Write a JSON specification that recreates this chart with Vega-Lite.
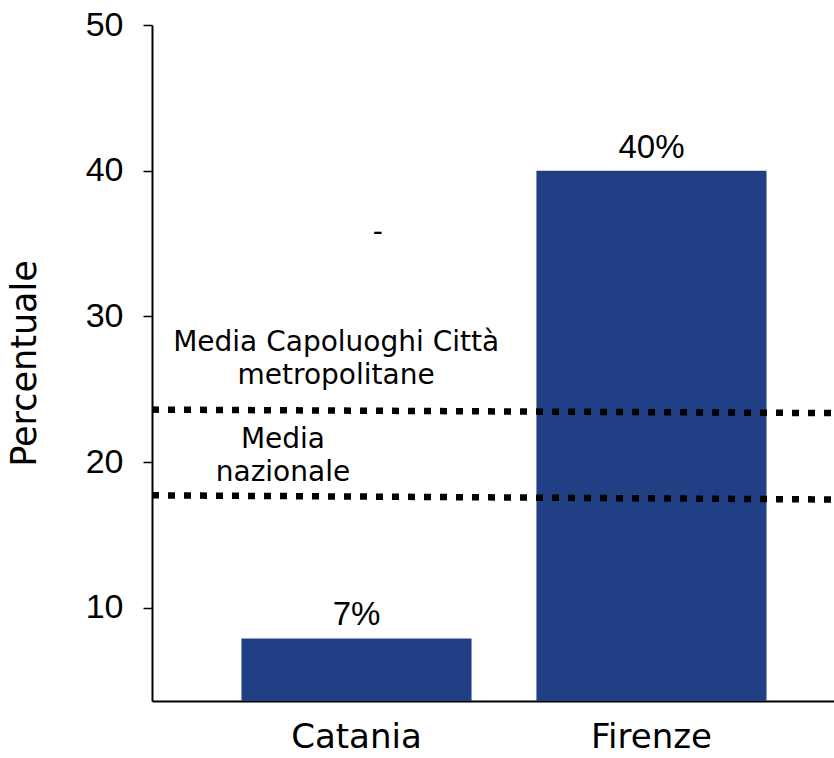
{
  "$schema": "https://vega.github.io/schema/vega-lite/v6.json",
  "width": 682,
  "height": 676,
  "autosize": "none",
  "padding": {"left": 152, "top": 25, "right": 0, "bottom": 57},
  "background": "white",
  "config": {"view": {"stroke": null}, "font": "DejaVu Sans"},
  "datasets": {
    "bars": [
      {"citta": "Catania", "valore": 7.89, "etichetta": "7%"},
      {"citta": "Firenze", "valore": 40, "etichetta": "40%"}
    ],
    "medie": [
      {"serie": "Media Capoluoghi Città metropolitane", "pos": 0, "valore": 23.6},
      {"serie": "Media Capoluoghi Città metropolitane", "pos": 1, "valore": 23.36},
      {"serie": "Media nazionale", "pos": 0, "valore": 17.72},
      {"serie": "Media nazionale", "pos": 1, "valore": 17.43}
    ],
    "note": [
      {"testo": ["Media Capoluoghi Città", "metropolitane"], "pos": 0.27, "valore": 27.6},
      {"testo": ["Media", "nazionale"], "pos": 0.192, "valore": 21.0},
      {"testo": ["-"], "pos": 0.331, "valore": 35.2}
    ]
  },
  "layer": [
    {
      "data": {"name": "bars"},
      "layer": [
        {
          "mark": {"type": "bar", "color": "#213f85"},
          "encoding": {
            "x": {
              "field": "citta", "type": "nominal",
              "scale": {"paddingInner": 0.22, "paddingOuter": 0.266, "align": 0.57},
              "axis": {"title": null, "labelAngle": 0, "labelFontSize": 34, "labelColor": "#000", "labelPadding": 19, "ticks": false, "domainColor": "#000", "domainWidth": 2, "labelFont": "DejaVu Sans"}
            },
            "y": {
              "field": "valore", "type": "quantitative",
              "scale": {"domain": [3.6, 50], "nice": false, "zero": false},
              "axis": {"title": "Percentuale", "values": [10, 20, 30, 40, 50], "grid": false, "tickSize": 9, "tickColor": "#000", "tickWidth": 1.5, "domainColor": "#000", "domainWidth": 2, "labelFontSize": 34, "labelColor": "#000", "labelPadding": 20, "labelFont": "Liberation Sans", "titleFontSize": 35, "titleFontWeight": "normal", "titleColor": "#000", "titlePadding": 43, "titleFont": "DejaVu Sans"}
            },
            "y2": {"datum": 3.6}
          }
        },
        {
          "mark": {"type": "text", "baseline": "alphabetic", "dy": -13, "fontSize": 33, "font": "Liberation Sans", "color": "#000"},
          "encoding": {
            "x": {"field": "citta", "type": "nominal"},
            "y": {"field": "valore", "type": "quantitative"},
            "text": {"field": "etichetta"}
          }
        }
      ]
    },
    {
      "layer": [
        {
          "data": {"name": "medie"},
          "mark": {"type": "line", "color": "#000", "strokeWidth": 6.5, "strokeDash": [7, 9], "strokeCap": "butt"},
          "encoding": {
            "x": {"field": "pos", "type": "quantitative", "scale": {"domain": [0, 1], "nice": false}, "axis": null},
            "y": {"field": "valore", "type": "quantitative"},
            "detail": {"field": "serie"}
          }
        },
        {
          "data": {"name": "note"},
          "mark": {"type": "text", "fontSize": 28, "lineHeight": 33, "baseline": "alphabetic", "align": "center", "color": "#000", "font": "DejaVu Sans"},
          "encoding": {
            "x": {"field": "pos", "type": "quantitative", "scale": {"domain": [0, 1], "nice": false}, "axis": null},
            "y": {"field": "valore", "type": "quantitative"},
            "text": {"field": "testo"}
          }
        }
      ]
    }
  ],
  "resolve": {"scale": {"x": "independent"}}
}
